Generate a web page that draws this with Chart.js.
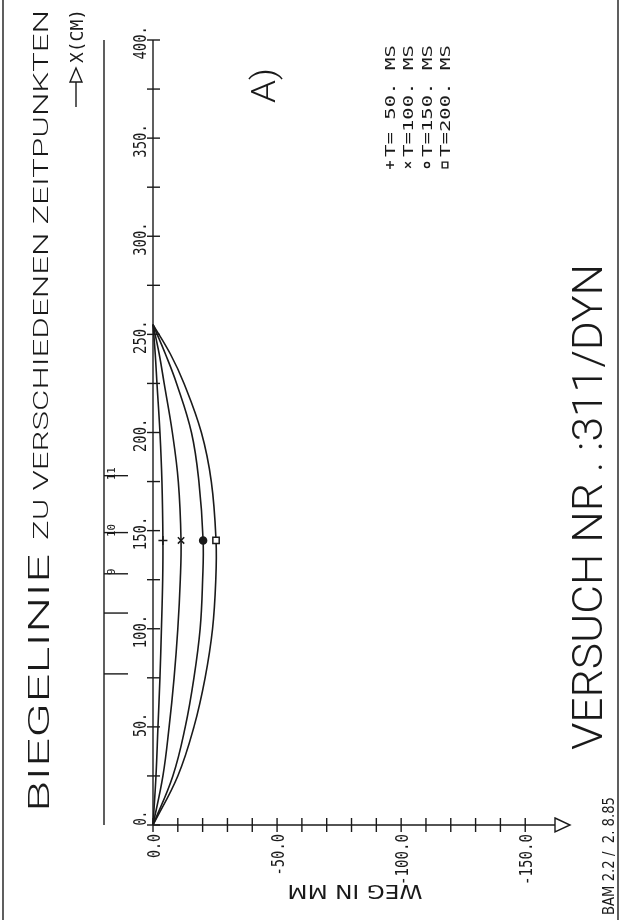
<!DOCTYPE html>
<html>
<head>
<meta charset="utf-8">
<script src="https://cdn.jsdelivr.net/npm/chart.js@4.4.1/dist/chart.umd.min.js"></script>
<style>
  html, body { margin: 0; padding: 0; background: #fff; }
  canvas { display: block; }
</style>
</head>
<body>
<canvas id="chart" width="620" height="920"></canvas>
<script>
// position along the beam, cm
const positionsCm = [0, 25, 50, 75, 100, 125, 145, 175, 200, 225, 240, 255];
// deflection in mm at each time
const weg50  = [0, -1.2, -2.0, -2.8, -3.4, -3.9, -4.0, -3.6, -2.8, -1.6, -0.9, 0];
const weg100 = [0, -4.0, -6.5, -8.5, -10.0, -11.0, -11.3, -10.2, -7.8, -4.5, -2.5, 0];
const weg150 = [0, -8.0, -13.0, -16.5, -19.0, -20.0, -20.2, -18.5, -15.5, -9.5, -5.0, 0];
const weg200 = [0, -10.0, -16.5, -21.0, -24.0, -25.3, -25.4, -23.5, -19.5, -12.5, -7.0, 0];
const markerCm = 145;

const legendTexts = ["T= 50. MS", "T=100. MS", "T=150. MS", "T=200. MS"];
const pointStyles = ["cross", "crossRot", "circle", "rect"];

const cmTicks = [0, 50, 100, 150, 200, 250, 300, 350, 400];
const cmLabels = ["0.", "50.", "100.", "150.", "200.", "250.", "300.", "350.", "400."];
const cmMinor = [25, 75, 125, 175, 225, 275, 325, 375];
const mmTicks = [0, -50, -100, -150];
const mmLabels = ["0.0", "-50.0", "-100.0", "-150.0"];
const mmMinorStep = 10;

// measuring points along the beam
const sensorCm = [77, 108, 128, 149, 178];
const sensorLabels = ["", "", "9", "10", "11"];

const INK = "#1a1a1a";
const FONT = "'Liberation Sans Narrow', 'DejaVu Sans Condensed', sans-serif";
const MONO = "{s}px 'DejaVu Sans Mono', monospace";
const TITLE_FONT = "300 {s}px Roboto, 'DejaVu Sans', sans-serif";

function line(ctx, x1, y1, x2, y2) {
  ctx.beginPath();
  ctx.moveTo(x1, y1);
  ctx.lineTo(x2, y2);
  ctx.stroke();
}

// text along a direction; len stretches it to a fixed length
function rText(ctx, str, x, y, angle, cap, align, len, font) {
  const size = cap / 0.72;
  ctx.save();
  ctx.translate(x, y);
  ctx.rotate(angle);
  ctx.font = (font || "{s}px " + FONT).replace("{s}", size.toFixed(1));
  ctx.textAlign = "left";
  ctx.textBaseline = "alphabetic";
  const w = ctx.measureText(str).width;
  const sx = len ? len / w : 1;
  const L = w * sx;
  const start = align === "center" ? -L / 2 : align === "end" ? -L : 0;
  ctx.translate(start, 0);
  ctx.scale(sx, 1);
  ctx.fillText(str, 0, cap / 2);
  ctx.restore();
}

function labelLen(str) {
  let n = 0;
  for (const c of str) n += c === "." ? 5 : c === "-" ? 8 : 9.5;
  return n;
}

const UP = -Math.PI / 2;

const decor = {
  id: "decor",
  afterDraw(chart) {
    const ctx = chart.ctx;
    const xs = chart.scales.x, ys = chart.scales.y;
    const x0 = xs.getPixelForValue(0);
    const yb = ys.getPixelForValue(0);
    const yt = ys.getPixelForValue(400);
    ctx.save();
    ctx.strokeStyle = INK;
    ctx.fillStyle = INK;
    ctx.lineWidth = 1.4;

    // frame
    line(ctx, 3, 0, 3, 920);
    line(ctx, 618, 0, 618, 920);
    line(ctx, 104, yt, 104, yb);

    // X axis (cm), vertical
    line(ctx, x0, yb, x0, yt);
    cmMinor.concat(cmTicks).forEach(v => {
      const y = ys.getPixelForValue(v);
      line(ctx, x0 - 6, y, x0 + 7, y);
    });
    cmTicks.forEach((v, i) => {
      const y = ys.getPixelForValue(v);
      rText(ctx, cmLabels[i], x0 - 14, y - 14, UP, 13, "end", labelLen(cmLabels[i]), MONO);
    });

    // WEG axis (mm), horizontal
    const xEnd = xs.getPixelForValue(xs.min);
    line(ctx, x0, yb, xEnd, yb);
    for (let v = 0; v >= -150; v -= mmMinorStep) {
      const x = xs.getPixelForValue(v);
      line(ctx, x, yb - 7, x, yb + 7);
    }
    ctx.beginPath();
    ctx.moveTo(xEnd, yb - 7);
    ctx.lineTo(xEnd + 15, yb);
    ctx.lineTo(xEnd, yb + 7);
    ctx.closePath();
    ctx.stroke();
    mmTicks.forEach((v, i) => {
      const x = xs.getPixelForValue(v);
      rText(ctx, mmLabels[i], x, yb + 9, UP, 13, "end", labelLen(mmLabels[i]), MONO);
    });
    rText(ctx, "WEG IN MM", 355, 892, Math.PI, 14, "center", 135);

    // measuring points
    sensorCm.forEach((v, i) => {
      const y = ys.getPixelForValue(v);
      line(ctx, 104, y, 128, y);
      if (sensorLabels[i]) rText(ctx, sensorLabels[i], 111, y - 2, UP, 8, "center", sensorLabels[i].length * 6.5, MONO);
    });

    // titles
    rText(ctx, "BIEGELINIE", 38, 812, UP, 21, "start", 258, TITLE_FONT);
    rText(ctx, "ZU VERSCHIEDENEN ZEITPUNKTEN", 41, 540, UP, 14, "start", 530, TITLE_FONT);
    rText(ctx, "X(CM)", 76, 63, UP, 13, "start", 54, MONO);
    line(ctx, 76, 107, 76, 82);
    ctx.beginPath();
    ctx.moveTo(70, 82);
    ctx.lineTo(76, 68);
    ctx.lineTo(82, 82);
    ctx.closePath();
    ctx.stroke();
    rText(ctx, "A)", 263, 103, UP, 24, "start", 35, TITLE_FONT);

    // legend
    const lx = [390, 408, 427, 445];
    legendTexts.forEach((t, i) => {
      ctx.fillStyle = "#fff";
      Chart.helpers.drawPoint(ctx, {
        pointStyle: pointStyles[i], radius: i === 2 ? 2.5 : 4, rotation: 0, borderWidth: 1.2
      }, lx[i], 165);
      ctx.fillStyle = INK;
      rText(ctx, t, lx[i], 157, UP, 10, "start", 112, MONO);
    });

    rText(ctx, "VERSUCH NR . :311/DYN", 587, 750, UP, 30, "start", 486, TITLE_FONT);
    rText(ctx, "BAM 2.2 /  2. 8.85", 608, 915, UP, 11, "start", 118);
    ctx.restore();
  }
};

const series = [weg50, weg100, weg150, weg200];

new Chart(document.getElementById("chart"), {
  type: "scatter",
  data: {
    datasets: series.map((s, i) => ({
      label: legendTexts[i],
      data: positionsCm.map((p, j) => ({ x: s[j], y: p })),
      showLine: true,
      tension: 0.4,
      borderColor: INK,
      borderWidth: 1.6,
      pointStyle: pointStyles[i],
      pointBackgroundColor: i === 2 ? INK : "#fff",
      pointBorderColor: INK,
      pointBorderWidth: 1.5,
      pointRadius: c => (c.raw && c.raw.y === markerCm ? (i === 2 ? 3.5 : 4.5) : 0),
      clip: false
    }))
  },
  options: {
    responsive: false,
    animation: false,
    layout: { padding: { left: 153, right: 65, top: 40, bottom: 95 } },
    scales: {
      x: { type: "linear", min: -162, max: 0, reverse: true, display: false },
      y: { type: "linear", min: 0, max: 400, display: false }
    },
    plugins: { legend: { display: false }, tooltip: { enabled: false } }
  },
  plugins: [decor]
});
</script>
</body>
</html>
